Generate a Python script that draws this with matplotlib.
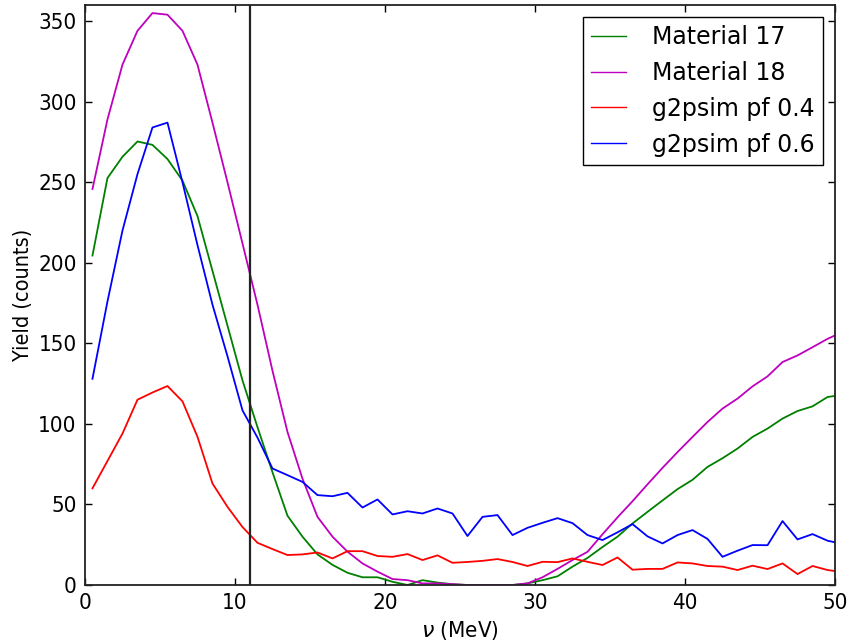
import numpy as np
import matplotlib
matplotlib.use("Agg")
import matplotlib.pyplot as plt
from matplotlib import font_manager

# bin centres in MeV (last bin gets clipped at 50)
nu = np.arange(0.5, 51.0, 1.0)

material_17 = [204.5, 252.6, 265.8, 275.3, 273.2, 264.4, 251, 229, 195, 161,
               127, 98, 70, 43, 30, 19, 12.5, 7.6, 4.8, 4.8,
               2, 0, 3, 1.5, 0.5, 0, 0, 0, 0, 1,
               3, 5.4, 11.4, 16.8, 23.6, 30, 38.2, 45.4, 52.5, 59.5,
               65.3, 73.3, 78.7, 84.7, 91.9, 97.1, 103.3, 108, 110.9, 116.7,
               118]
material_18 = [245.8, 289, 323, 344, 355, 354, 344, 323, 287, 250,
               212, 174, 133, 95, 66, 42.3, 30, 20.7, 13.4, 8.3,
               3.7, 3, 1, 1, 0.5, 0, 0, 0, 0, 1,
               4.8, 10, 15.5, 20.6, 31.5, 42, 52, 62.5, 72.7, 82.5,
               91.9, 101.2, 109.5, 115.7, 123.3, 129.5, 138.4, 142.5, 147.6, 152.8,
               157]
pf_04 = [60, 77, 94, 115, 119.5, 123.5, 114, 92, 63, 48.5,
         36, 26.2, 22.3, 18.6, 19, 20.2, 16.5, 21, 21, 18,
         17.5, 19.2, 15.5, 18.4, 13.8, 14.3, 15, 16.1, 14.3, 11.8,
         14.4, 14.2, 16.5, 14.4, 12.4, 17.1, 9.5, 10, 10, 14,
         13.4, 11.8, 11.4, 9.3, 12, 9.9, 13.4, 6.8, 11.8, 9.3,
         8]
pf_06 = [128, 176, 220, 255, 284, 287, 250, 211, 174, 142,
         108.4, 91.5, 72.3, 68.2, 64, 55.8, 55.1, 57.2, 48.1, 53.1,
         43.8, 45.8, 44.4, 47.5, 44.4, 30.4, 42.3, 43.4, 31, 35.5,
         38.6, 41.5, 38.4, 31, 27.9, 32.7, 37.8, 30.2, 25.8, 31,
         34.1, 28.6, 17.5, 21.3, 24.8, 24.7, 39.7, 28.3, 31.6, 27.5,
         25.5]
cut_nu = 11


def narrow_font(size):
    # look for a narrow sans face for the axis text
    files = [f.fname for f in font_manager.fontManager.ttflist]
    for key in ["LiberationSansNarrow-Regular", "DejaVuSansCondensed.",
                "OpenSans_Condensed-Regular", "OpenSansCondensed-Regular",
                "RobotoCondensed-Regular", "NotoSans-Condensed."]:
        for f in files:
            if key in f.split("/")[-1]:
                return font_manager.FontProperties(fname=f, size=size)
    return font_manager.FontProperties(family="DejaVu Sans", size=size)


tick_font = narrow_font(16)
ylab_font = narrow_font(15.5)

fig = plt.figure(figsize=(8.48, 6.44), dpi=100)
ax = fig.add_axes([0.1002, 0.0916, 0.8845, 0.9006])

ax.plot(nu, material_17, color="g", lw=1.3, label="Material 17")
ax.plot(nu, material_18, color="m", lw=1.3, label="Material 18")
ax.plot(nu, pf_04, color="r", lw=1.3, label="g2psim pf 0.4")
ax.plot(nu, pf_06, color="b", lw=1.3, label="g2psim pf 0.6")
ax.axvline(cut_nu, color="#222222", lw=1.6)

ax.set_xlim(0, 50)
ax.set_ylim(0, 360)
ax.set_xticks([0, 10, 20, 30, 40, 50])
ax.set_yticks(np.arange(0, 351, 50))
ax.tick_params(direction="in", top=True, right=True, length=5, width=1, pad=6)
for lab in ax.get_xticklabels() + ax.get_yticklabels():
    lab.set_fontproperties(tick_font)
for sp in ax.spines.values():
    sp.set_linewidth(1.3)
    sp.set_color("#222222")

ax.set_xlabel(r"$\nu$ (MeV)", fontproperties=tick_font, labelpad=4)
ax.set_ylabel("Yield (counts)", fontproperties=ylab_font)

leg = ax.legend(loc="upper right", fontsize=17, fancybox=False, framealpha=1,
                handlelength=1.5, handletextpad=1.1, labelspacing=0.5,
                borderpad=0.35, borderaxespad=0.5)
leg.get_frame().set_edgecolor("black")
leg.get_frame().set_linewidth(1.0)
for line in leg.get_lines():
    line.set_linewidth(1.0)

fig.savefig("out.png", dpi=100)
